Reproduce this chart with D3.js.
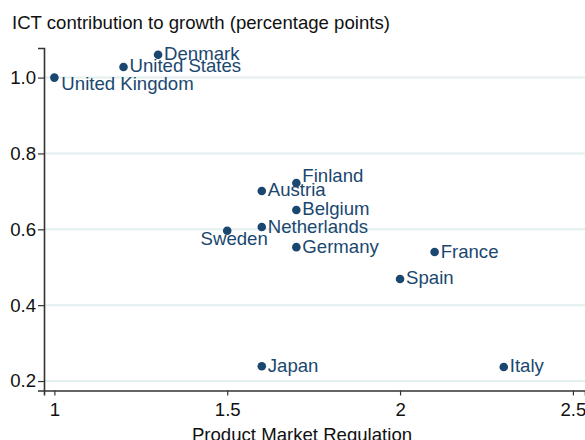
<!DOCTYPE html>
<html>
<head>
<meta charset="utf-8">
<script src="https://cdn.jsdelivr.net/npm/d3@7"></script>
<style>
  body { margin: 0; background: #fff; }
  text { font-family: "Liberation Sans", Arial, sans-serif; }
</style>
</head>
<body>
<div class="chart"></div>
<script>
// data
var countries = ["United Kingdom", "United States", "Denmark", "Finland", "Austria", "Belgium",
                 "Netherlands", "Sweden", "Germany", "France", "Spain", "Japan", "Italy"];
var pmr = [1.0, 1.2, 1.3, 1.7, 1.6, 1.7, 1.6, 1.5, 1.7, 2.1, 2.0, 1.6, 2.3];
var ict = [1.0, 1.028, 1.06, 0.722, 0.701, 0.651, 0.606, 0.596, 0.553, 0.54, 0.469, 0.239, 0.237];
// where the label sits relative to the dot
var labelPos = ["belowright", "right", "right", "upright", "right", "right",
                "right", "below", "right", "right", "right", "right", "right"];
var xTicks = [1, 1.5, 2, 2.5];
var yTicks = [0.2, 0.4, 0.6, 0.8, 1.0];

var W = 585, H = 440;
var margin = {top: 48, right: 0, bottom: 49.5, left: 44};

var svg = d3.select(".chart").append("svg")
    .attr("width", W)
    .attr("height", H);

var x = d3.scaleLinear().domain([0.97, 2.535]).range([margin.left, W - margin.right]);
var y = d3.scaleLinear().domain([0.175, 1.078]).range([H - margin.bottom, margin.top]);

var navy = "#1a476f";
var fs = "18.6px";

// grid lines
svg.append("g").selectAll("line")
    .data(yTicks)
    .enter().append("line")
    .attr("x1", margin.left)
    .attr("x2", W)
    .attr("y1", function(d) { return y(d); })
    .attr("y2", function(d) { return y(d); })
    .attr("stroke", "#e3eef0")
    .attr("stroke-width", 2);

// y axis
var yAxis = svg.append("g")
    .attr("transform", "translate(" + margin.left + ",0)")
    .call(d3.axisLeft(y).tickValues(yTicks).tickFormat(d3.format(".1f")).tickSize(6).tickPadding(2));

// x axis
var xAxis = svg.append("g")
    .attr("transform", "translate(0," + (H - margin.bottom) + ")")
    .call(d3.axisBottom(x).tickValues(xTicks).tickFormat(function(d) { return String(d); }).tickSize(5).tickPadding(7));

[yAxis, xAxis].forEach(function(a) {
  a.select(".domain").attr("stroke", "#333").attr("stroke-width", 1.6);
  a.selectAll(".tick line").attr("stroke", "#333").attr("stroke-width", 1.2);
  a.selectAll(".tick text")
    .attr("fill", "#111")
    .attr("font-size", fs)
    .style("font-family", "'Liberation Sans', Arial, sans-serif");
});

// titles
svg.append("text")
    .attr("x", 12)
    .attr("y", 29)
    .attr("font-size", fs)
    .attr("fill", "#111")
    .text("ICT contribution to growth (percentage points)");

svg.append("text")
    .attr("x", 302)
    .attr("y", 441)
    .attr("text-anchor", "middle")
    .attr("font-size", fs)
    .attr("fill", "#111")
    .text("Product Market Regulation");

// points
var pts = countries.map(function(c, i) {
  return {name: c, x: pmr[i], y: ict[i], pos: labelPos[i]};
});

svg.append("g").selectAll("circle")
    .data(pts)
    .enter().append("circle")
    .attr("cx", function(d) { return x(d.x); })
    .attr("cy", function(d) { return y(d.y); })
    .attr("r", 4.3)
    .attr("fill", navy);

svg.append("g").selectAll("text")
    .data(pts)
    .enter().append("text")
    .attr("x", function(d) {
      if (d.pos == "below") return x(d.x) + 7;
      if (d.pos == "belowright") return x(d.x) + 7;
      return x(d.x) + 6;
    })
    .attr("y", function(d) {
      if (d.pos == "below") return y(d.y) + 14;
      if (d.pos == "belowright") return y(d.y) + 12;
      if (d.pos == "upright") return y(d.y) - 1;
      return y(d.y) + 5.5;
    })
    .attr("text-anchor", function(d) { return d.pos == "below" ? "middle" : "start"; })
    .attr("font-size", fs)
    .attr("fill", navy)
    .text(function(d) { return d.name; });
</script>
</body>
</html>
